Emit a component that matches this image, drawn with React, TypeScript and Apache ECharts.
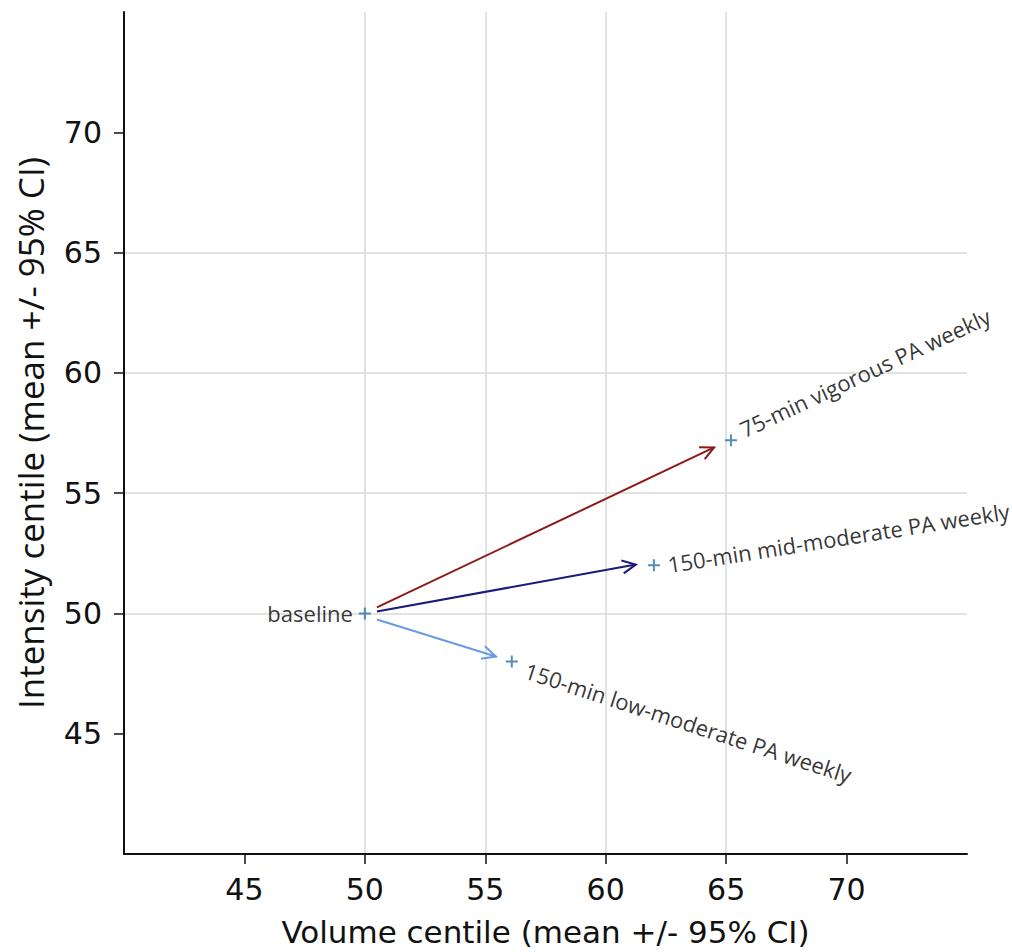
import React, { useEffect, useRef } from "react";
import * as echarts from "echarts";

// ---- data ----
const xTicks = [45, 50, 55, 60, 65, 70];
const yTicks = [45, 50, 55, 60, 65, 70];
const pointNames = [
  "baseline",
  "75-min vigorous PA weekly",
  "150-min mid-moderate PA weekly",
  "150-min low-moderate PA weekly",
];
const pointX = [50, 65.2, 62.0, 56.1];
const pointY = [50, 57.2, 52.0, 48.0];

const arrowStartX = [50.5, 50.5, 50.5];
const arrowStartY = [50.25, 50.08, 49.75];
const arrowEndX = [64.5, 61.25, 55.44];
const arrowEndY = [56.9, 52.03, 48.21];
const arrowColors = ["#8b1a1a", "#1a1a78", "#6a9be0"];

const PLUS = "path://M5,0H7V5H12V7H7V12H5V7H0V5H5Z";

export default function App() {
  const ref = useRef<HTMLDivElement>(null);
  useEffect(() => {
    if (!ref.current) return;
    const chart = echarts.init(ref.current, null, { renderer: "svg" });

    // label placement per point (style only)
    const labelCfg = [
      { position: "left", distance: 6, rotate: 0, align: "right", verticalAlign: "middle" },
      { position: [16, -4], rotate: 25, align: "left", verticalAlign: "middle" },
      { position: [20, 5], rotate: 9, align: "left", verticalAlign: "middle" },
      { position: [20, 14], rotate: -18, align: "left", verticalAlign: "middle" },
    ];

    const pointData = pointNames.map((n, i) => ({
      name: n,
      value: [pointX[i], pointY[i]],
      label: {
        show: true,
        formatter: n,
        fontFamily: "Open Sans",
        fontSize: 22,
        color: "#000",
        ...labelCfg[i],
      },
    }));

    const arrowData = arrowStartX.map((_, i) => [
      arrowStartX[i],
      arrowStartY[i],
      arrowEndX[i],
      arrowEndY[i],
    ]);

    const tickFont = { fontFamily: "DejaVu Sans", fontSize: 30, color: "#111" };

    chart.setOption({
      animation: false,
      backgroundColor: "#fff",
      grid: {
        left: 124,
        right: 45,
        top: 12,
        bottom: 98,
        containLabel: false,
        outerBoundsMode: "none",
      },
      xAxis: {
        type: "value",
        min: 40,
        max: 75,
        interval: 5,
        name: "Volume centile (mean +/- 95% CI)",
        nameLocation: "middle",
        nameGap: 62,
        nameTextStyle: { fontFamily: "DejaVu Sans", fontSize: 31, color: "#111" },
        axisLine: { show: true, onZero: false, lineStyle: { color: "#111", width: 2 } },
        axisTick: {
          show: true,
          inside: false,
          length: 10,
          customValues: xTicks,
          lineStyle: { color: "#111", width: 1.5 },
        },
        axisLabel: { margin: 20, customValues: xTicks, ...tickFont },
        splitLine: {
          show: true,
          showMinLine: false,
          showMaxLine: false,
          lineStyle: { color: "#d8d8d8", width: 1.5 },
        },
      },
      yAxis: {
        type: "value",
        min: 40,
        max: 75,
        interval: 5,
        name: "Intensity centile (mean +/- 95% CI)",
        nameLocation: "middle",
        nameGap: 76,
        nameTextStyle: { fontFamily: "Open Sans", fontSize: 35, color: "#111" },
        axisLine: { show: true, onZero: false, lineStyle: { color: "#111", width: 2 } },
        axisTick: {
          show: true,
          inside: false,
          length: 10,
          customValues: yTicks,
          lineStyle: { color: "#111", width: 1.5 },
        },
        axisLabel: { margin: 22, customValues: yTicks, ...tickFont },
        splitLine: {
          show: true,
          showMinLine: false,
          showMaxLine: false,
          lineStyle: { color: "#d8d8d8", width: 1.5 },
        },
      },
      series: [
        {
          type: "custom",
          encode: { x: [0, 2], y: [1, 3] },
          data: arrowData,
          silent: true,
          z: 3,
          renderItem: (params: any, api: any) => {
            const s = api.coord([api.value(0), api.value(1)]);
            const e = api.coord([api.value(2), api.value(3)]);
            const ang = Math.atan2(e[1] - s[1], e[0] - s[0]);
            const L = 15;
            const a = 0.45;
            const p1 = [e[0] - L * Math.cos(ang - a), e[1] - L * Math.sin(ang - a)];
            const p2 = [e[0] - L * Math.cos(ang + a), e[1] - L * Math.sin(ang + a)];
            const color = arrowColors[params.dataIndex];
            return {
              type: "group",
              children: [
                {
                  type: "line",
                  shape: { x1: s[0], y1: s[1], x2: e[0], y2: e[1] },
                  style: { stroke: color, lineWidth: 2 },
                },
                {
                  type: "polyline",
                  shape: { points: [p1, e, p2] },
                  style: { stroke: color, fill: "none", lineWidth: 2 },
                },
              ],
            };
          },
        },
        {
          type: "scatter",
          symbol: PLUS,
          symbolSize: 12,
          itemStyle: { color: "#2a6fa6" },
          data: pointData,
          z: 4,
        },
      ],
    });
    return () => chart.dispose();
  }, []);
  return (
    <div
      ref={ref}
      style={{ position: "fixed", left: 0, top: 0, width: 1012, height: 952 }}
    />
  );
}
